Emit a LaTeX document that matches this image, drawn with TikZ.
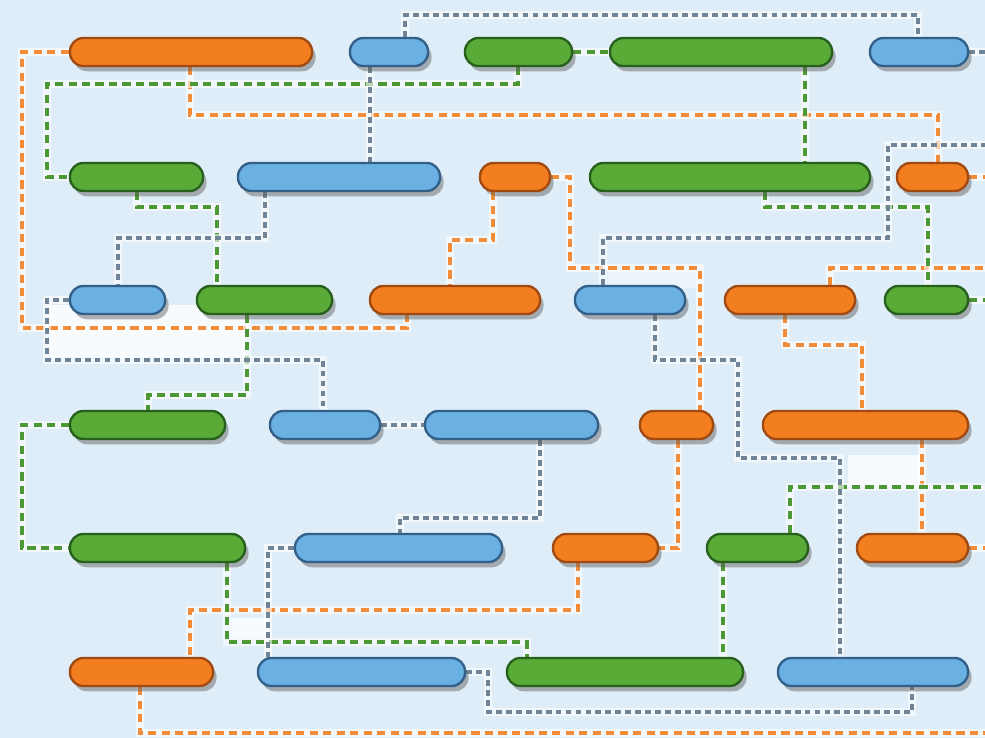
\documentclass[tikz,border=0pt]{standalone}
\usepackage{tikz}
\usetikzlibrary{fit,shadows,backgrounds}
\definecolor{bgblue}{RGB}{222,237,247}
\definecolor{ofill}{RGB}{243,126,32}
\definecolor{oedge}{RGB}{160,74,18}
\definecolor{bfill}{RGB}{106,176,226}
\definecolor{bedge}{RGB}{50,96,136}
\definecolor{gfill}{RGB}{90,170,56}
\definecolor{gedge}{RGB}{38,96,28}
\definecolor{oline}{RGB}{242,140,56}
\definecolor{gline}{RGB}{76,152,52}
\definecolor{bline}{RGB}{112,132,152}
\tikzset{
  pill/.style={line width=2pt, rounded corners=0.4cm, inner sep=0pt,
    drop shadow={shadow xshift=3pt, shadow yshift=-4.5pt, opacity=.45, fill=black!65}},
  opill/.style={pill, draw=oedge, fill=ofill},
  bpill/.style={pill, draw=bedge, fill=bfill},
  gpill/.style={pill, draw=gedge, fill=gfill},
  link/.style={line width=3.2pt, dash pattern=on 7pt off 4.5pt,
    preaction={draw=white, draw opacity=.6, line width=6pt, solid}},
  olink/.style={link, draw=oline},
  glink/.style={link, draw=gline},
  blink/.style={link, draw=bline, line width=2.7pt, dash pattern=on 5pt off 3.5pt},
  blank/.style={fill=white, fill opacity=.8, draw=none}
}

\begin{document}
\begin{tikzpicture}[x=0.03cm, y=-0.03cm]
  \def\yA{52}
  \def\yB{177}
  \def\yC{300}
  \def\yD{425}
  \def\yE{548}
  \def\yF{672}
  \useasboundingbox (0,0) rectangle (985,738);

  % row 1
  \node[opill, fit={(70,\yA-14) (312,\yA+14)}] (o1) {};
  \node[bpill, fit={(350,\yA-14) (428,\yA+14)}] (b1) {};
  \node[gpill, fit={(465,\yA-14) (572,\yA+14)}] (g1) {};
  \node[gpill, fit={(610,\yA-14) (832,\yA+14)}] (g2) {};
  \node[bpill, fit={(870,\yA-14) (968,\yA+14)}] (b2) {};
  % row 2
  \node[gpill, fit={(70,\yB-14) (203,\yB+14)}] (g3) {};
  \node[bpill, fit={(238,\yB-14) (440,\yB+14)}] (b3) {};
  \node[opill, fit={(480,\yB-14) (550,\yB+14)}] (o2) {};
  \node[gpill, fit={(590,\yB-14) (870,\yB+14)}] (g4) {};
  \node[opill, fit={(897,\yB-14) (968,\yB+14)}] (o3) {};
  % row 3
  \node[bpill, fit={(70,\yC-14) (165,\yC+14)}] (b4) {};
  \node[gpill, fit={(197,\yC-14) (332,\yC+14)}] (g5) {};
  \node[opill, fit={(370,\yC-14) (540,\yC+14)}] (o4) {};
  \node[bpill, fit={(575,\yC-14) (685,\yC+14)}] (b5) {};
  \node[opill, fit={(725,\yC-14) (855,\yC+14)}] (o5) {};
  \node[gpill, fit={(885,\yC-14) (968,\yC+14)}] (g6) {};
  % row 4
  \node[gpill, fit={(70,\yD-14) (225,\yD+14)}] (g7) {};
  \node[bpill, fit={(270,\yD-14) (380,\yD+14)}] (b6) {};
  \node[bpill, fit={(425,\yD-14) (598,\yD+14)}] (b7) {};
  \node[opill, fit={(640,\yD-14) (713,\yD+14)}] (o6) {};
  \node[opill, fit={(763,\yD-14) (968,\yD+14)}] (o7) {};
  % row 5
  \node[gpill, fit={(70,\yE-14) (245,\yE+14)}] (g8) {};
  \node[bpill, fit={(295,\yE-14) (502,\yE+14)}] (b8) {};
  \node[opill, fit={(553,\yE-14) (658,\yE+14)}] (o8) {};
  \node[gpill, fit={(707,\yE-14) (808,\yE+14)}] (g9) {};
  \node[opill, fit={(857,\yE-14) (968,\yE+14)}] (o9) {};
  % row 6
  \node[opill, fit={(70,\yF-14) (213,\yF+14)}] (o10) {};
  \node[bpill, fit={(258,\yF-14) (465,\yF+14)}] (b9) {};
  \node[gpill, fit={(507,\yF-14) (743,\yF+14)}] (g10) {};
  \node[bpill, fit={(778,\yF-14) (968,\yF+14)}] (b10) {};

  \begin{scope}[on background layer]
    \fill[bgblue] (0,0) rectangle (985,738);
    \fill[blank] (50,305) rectangle (245,357);
    \fill[blank] (848,455) rectangle (920,486);
    \fill[blank] (231,618) rectangle (268,638);
    \fill[blank, fill opacity=.4] (608,270) rectangle (698,288);

    % orange links
    \draw[olink] (o1.west) -| (22,328) -| (o4.south -| 407,0);
    \draw[olink] (o1.south -| 190,0) |- (938,115) -- (o3.north -| 938,0);
    \draw[olink] (o2.south -| 493,0) |- (450,240) -- (o4.north -| 450,0);
    \draw[olink] (o2.east) -| (570,268) -| (o6.north -| 700,0);
    \draw[olink] (o3.east) -- (985,\yB);
    \draw[olink] (o5.north -| 830,0) |- (985,268);
    \draw[olink] (o5.south -| 785,0) |- (862,345) -- (o7.north -| 862,0);
    \draw[olink] (o6.south -| 678,0) |- (o8.east);
    \draw[olink] (o7.south -| 922,0) -- (o9.north -| 922,0);
    \draw[olink] (o8.south -| 578,0) |- (190,610) -- (o10.north -| 190,0);
    \draw[olink] (o9.east) -- (985,\yE);
    \draw[olink] (o10.south -| 140,0) |- (985,733);

    % green links
    \draw[glink] (g1.south -| 518,0) |- (47,84) |- (g3.west);
    \draw[glink] (g1.east) -- (g2.west);
    \draw[glink] (g2.south -| 805,0) -- (g4.north -| 805,0);
    \draw[glink] (g3.south -| 137,0) |- (217,207) -- (g5.north -| 217,0);
    \draw[glink] (g4.south -| 765,0) |- (928,207) -- (g6.north -| 928,0);
    \draw[glink] (g5.south -| 247,0) |- (148,395) -- (g7.north -| 148,0);
    \draw[glink] (g6.east) -- (985,\yC);
    \draw[glink] (g7.west) -| (22,\yE) -- (g8.west);
    \draw[glink] (g8.south -| 227,0) |- (527,642) -- (g10.north -| 527,0);
    \draw[glink] (g9.north -| 790,0) |- (985,487);
    \draw[glink] (g9.south -| 723,0) -- (g10.north -| 723,0);

    % blue links
    \draw[blink] (b1.north -| 405,0) |- (918,15) -- (b2.north -| 918,0);
    \draw[blink] (b1.south -| 370,0) -- (b3.north -| 370,0);
    \draw[blink] (b2.east) -- (985,\yA);
    \draw[blink] (b3.south -| 265,0) |- (118,238) -- (b4.north -| 118,0);
    \draw[blink] (b4.west) -| (47,360) -| (b6.north -| 323,0);
    \draw[blink] (b5.north -| 603,0) |- (888,238) |- (985,145);
    \draw[blink] (b5.south -| 655,0) |- (738,360) |- (840,458) -- (b10.north -| 840,0);
    \draw[blink] (b6.east) -- (b7.west);
    \draw[blink] (b7.south -| 540,0) |- (400,518) -- (b8.north -| 400,0);
    \draw[blink] (b8.west) -| (b9.north -| 268,0);
    \draw[blink] (b9.east) -| (488,712) -| (b10.south -| 912,0);
  \end{scope}
\end{tikzpicture}
\end{document}
